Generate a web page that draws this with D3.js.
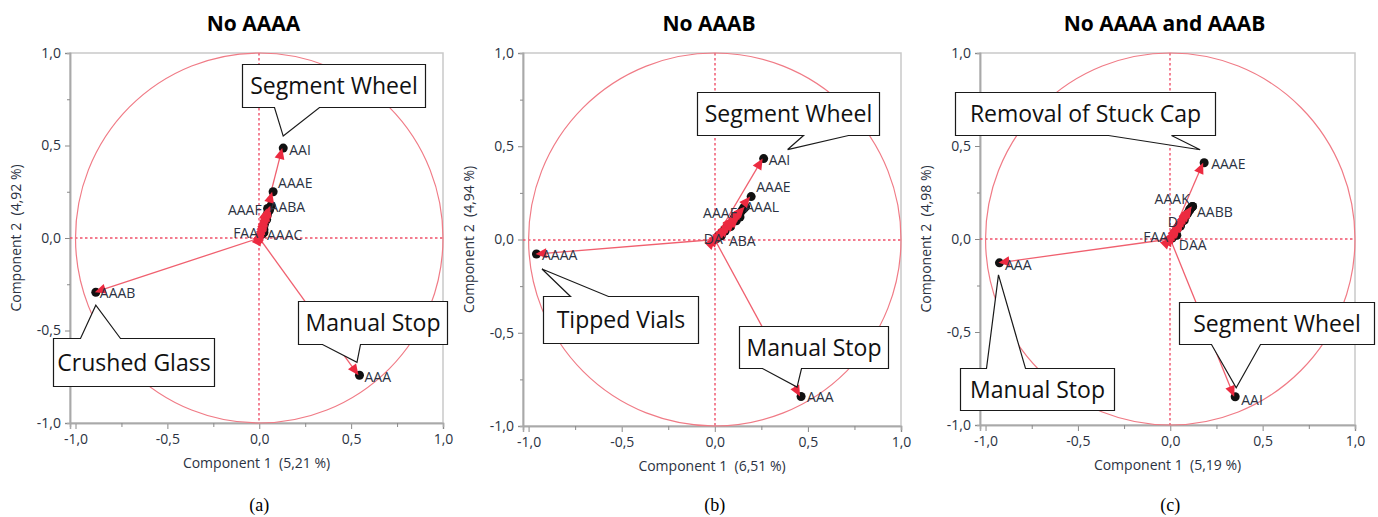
<!DOCTYPE html>
<html><head><meta charset="utf-8">
<script src="https://cdn.jsdelivr.net/npm/d3@7"></script>
<style>
body{margin:0;background:#fff;}
svg{display:block;font-family:"Open Sans",sans-serif;}
text{white-space:pre;}
</style></head><body>
<svg id="chart" width="1378" height="517"></svg>
<script>
// ---- Chart text ----
const panelTitles   = ["No AAAA", "No AAAB", "No AAAA and AAAB"];
const panelCaptions = ["(a)", "(b)", "(c)"];
const xAxisTitles   = ["Component 1  (5,21 %)", "Component 1  (6,51 %)", "Component 1  (5,19 %)"];
const yAxisTitles   = ["Component 2  (4,92 %)", "Component 2  (4,94 %)", "Component 2  (4,98 %)"];
const tickValues      = [-1, -0.5, 0, 0.5, 1];
const tickLabels      = ["-1,0", "-0,5", "0,0", "0,5", "1,0"];
const minorTickValues = [-0.75, -0.25, 0.25, 0.75];

// ---- Named loadings: [variable, component 1, component 2] ----
const loadingsA = [
  ["AAI", 0.125, 0.486], ["AAAE", 0.07, 0.25], ["AABA", 0.04, 0.16],
  ["AAAF", 0.035, 0.12], ["FAA", 0.01, 0.02], ["AAAC", 0.02, 0.03],
  ["AAAB", -0.895, -0.293], ["AAA", 0.54, -0.742]
];
const loadingsB = [
  ["AAI", 0.257, 0.434], ["AAAE", 0.19, 0.23], ["AAAL", 0.15, 0.17],
  ["AAAF", 0.10, 0.12], ["DA", 0.005, 0.005], ["ABA", 0.03, 0.02],
  ["AAAA", -0.963, -0.078], ["AAA", 0.458, -0.842]
];
const loadingsC = [
  ["AAAE", 0.178, 0.41], ["AABB", 0.115, 0.175], ["AAAK", 0.10, 0.16],
  ["D", 0.04, 0.07], ["FAA", 0.005, 0.005], ["DAA", 0.03, 0.02],
  ["AAA", -0.93, -0.128], ["AAI", 0.346, -0.848]
];

// ---- Small, overlapping loadings near the origin (labels hidden) ----
const clusterA = [
  [0.012, 0.035], [0.016, 0.05], [0.02, 0.065], [0.024, 0.08], [0.028, 0.095],
  [0.032, 0.11], [0.038, 0.125], [0.042, 0.14], [0.048, 0.155], [0.055, 0.168],
  [0.06, 0.175], [0.05, 0.15], [0.035, 0.10], [0.02, 0.045]
];
const clusterB = [
  [0.015, 0.02], [0.03, 0.035], [0.045, 0.05], [0.06, 0.065], [0.075, 0.08],
  [0.09, 0.095], [0.10, 0.11], [0.115, 0.125], [0.13, 0.14], [0.14, 0.155],
  [0.15, 0.165], [0.16, 0.175], [0.05, 0.045], [0.08, 0.07], [0.11, 0.10], [0.13, 0.12]
];
const clusterC = [
  [0.012, 0.02], [0.02, 0.035], [0.03, 0.05], [0.04, 0.065], [0.05, 0.08],
  [0.06, 0.095], [0.07, 0.11], [0.08, 0.125], [0.09, 0.14], [0.10, 0.155],
  [0.108, 0.168], [0.115, 0.175], [0.05, 0.07], [0.07, 0.10]
];

// ---- Annotations: [text, annotated variable] ----
const calloutsA = [["Segment Wheel", "AAI"], ["Manual Stop", "AAA"], ["Crushed Glass", "AAAB"]];
const calloutsB = [["Segment Wheel", "AAI"], ["Tipped Vials", "AAAA"], ["Manual Stop", "AAA"]];
const calloutsC = [["Removal of Stuck Cap", "AAAE"], ["Manual Stop", "AAA"], ["Segment Wheel", "AAI"]];

// ---- Layout ----
const X_DOMAIN = [-1.03, 1.0];
const Y_DOMAIN = [-1.0, 1.0];
const panels = [
  { frame: {L: 70,  R: 443,  T: 53, B: 423}, loadings: loadingsA, cluster: clusterA, callouts: calloutsA,
    labelPlace: { AAI:[7,2,"start"], AAAE:[6,-9,"start"], AABA:[3,-1,"start"], AAAF:[-4,-6,"end"],
                  FAA:[-3,-1,"end"], AAAC:[4,2.5,"start"], AAAB:[5,1,"start"], AAA:[6,2,"start"] },
    // box: top-left in data units, size in px; tail side, base offsets from box left, tip offset from point
    boxes: [ {x:-0.094, y:0.941, w:183, h:43, side:"bottom", b:[32,77], tip:[1,-12]},
             {x:0.211, y:-0.341, w:149, h:43, side:"bottom", b:[24,62], tip:[-1.5,-13]},
             {x:-1.123, y:-0.541, w:161, h:48, side:"top", b:[27,67], tip:[1,13]} ] },
  { frame: {L: 523, R: 901,  T: 53, B: 426}, loadings: loadingsB, cluster: clusterB, callouts: calloutsB,
    labelPlace: { AAI:[6,1.5,"start"], AAAE:[6,-9.5,"start"], AAAL:[2.5,-1,"start"], AAAF:[3.5,-4,"end"],
                  DA:[-12,0,"start"], ABA:[8.5,5,"start"], AAAA:[6.5,1,"start"], AAA:[7,0.5,"start"] },
    boxes: [ {x:-0.096, y:0.791, w:182, h:43, side:"bottom", b:[106,151], tip:[25,-9]},
             {x:-0.923, y:-0.303, w:155, h:47, side:"top", b:[27,65], tip:[6.5,15]},
             {x:0.129, y:-0.464, w:149, h:42, side:"bottom", b:[23,62], tip:[-3,-9.5]} ] },
  { frame: {L: 980, R: 1355, T: 53, B: 425}, loadings: loadingsC, cluster: clusterC, callouts: calloutsC,
    labelPlace: { AAAE:[8,1.5,"start"], AABB:[5.5,5.5,"start"], AAAK:[1,-10,"end"], D:[-10,-4,"start"],
                  FAA:[-3,-1,"end"], DAA:[3,10,"start"], AAA:[6.5,2,"start"], AAI:[7,3,"start"] },
    boxes: [ {x:-1.166, y:0.790, w:260, h:43, side:"bottom", b:[153,216], tip:[-3,-13]},
             {x:-1.139, y:-0.694, w:154, h:42, side:"top", b:[26,65], tip:[0,12]},
             {x:0.047, y:-0.339, w:195, h:42, side:"bottom", b:[32,81], tip:[2,-9]} ] }
];

const C = {
  text: "#2b3242", frame: "#c9c9c9", axis: "#a9a9a9", tick: "#8a8a8a",
  circle: "#f07b86", zero: "#f0506a", vector: "#f0606f", head: "#ec2a40", dot: "#111"
};

const svg = d3.select("#chart");

function calloutPath(bx, by, w, h, side, b1, b2, tx, ty) {
  if (side === "bottom") {
    return `M${bx},${by}H${bx + w}V${by + h}H${bx + b2}L${tx},${ty}L${bx + b1},${by + h}H${bx}Z`;
  }
  return `M${bx},${by}H${bx + b1}L${tx},${ty}L${bx + b2},${by}H${bx + w}V${by + h}H${bx}Z`;
}

panels.forEach((p, i) => {
  const f = p.frame;
  const x = d3.scaleLinear().domain(X_DOMAIN).range([f.L, f.R]);
  const y = d3.scaleLinear().domain(Y_DOMAIN).range([f.B, f.T]);
  const g = svg.append("g");
  const cx = (f.L + f.R) / 2;

  // title
  g.append("text").attr("x", cx - 3).attr("y", 31).attr("text-anchor", "middle")
    .attr("font-size", 21).attr("font-weight", 700).attr("fill", "#000").text(panelTitles[i]);

  // plot frame
  g.append("rect").attr("x", f.L).attr("y", f.T).attr("width", f.R - f.L).attr("height", f.B - f.T)
    .attr("fill", "none").attr("stroke", C.frame).attr("stroke-width", 1.5);

  // axes
  const xAxis = d3.axisBottom(x).tickValues(tickValues).tickSize(6).tickPadding(5)
    .tickFormat((d, k) => tickLabels[k]);
  const yAxis = d3.axisLeft(y).tickValues(tickValues).tickSize(5).tickPadding(4)
    .tickFormat((d, k) => tickLabels[k]);
  const gx = g.append("g").attr("transform", `translate(0,${f.B})`).call(xAxis);
  const gy = g.append("g").attr("transform", `translate(${f.L},0)`).call(yAxis);
  g.append("g").attr("transform", `translate(0,${f.B})`)
    .call(d3.axisBottom(x).tickValues(minorTickValues).tickSize(4).tickFormat(""));
  g.append("g").attr("transform", `translate(${f.L},0)`)
    .call(d3.axisLeft(y).tickValues(minorTickValues).tickSize(3).tickFormat(""));
  g.selectAll(".domain").attr("stroke", C.axis).attr("stroke-width", 1.5);
  g.selectAll(".tick line").attr("stroke", C.tick);
  [gx, gy].forEach(a => a.selectAll("text").attr("font-size", 14).attr("fill", C.text)
    .attr("font-family", "Open Sans, sans-serif"));

  // axis titles
  g.append("text").attr("x", cx).attr("y", f.B + 45).attr("text-anchor", "middle")
    .attr("font-size", 14).attr("fill", C.text).text(xAxisTitles[i]);
  g.append("text").attr("transform", `translate(${f.L - 49},${y(0)}) rotate(-90)`)
    .attr("text-anchor", "middle").attr("font-size", 14).attr("fill", C.text).text(yAxisTitles[i]);

  // caption
  g.append("text").attr("x", x(0)).attr("y", 511).attr("text-anchor", "middle")
    .attr("font-family", "Liberation Serif, serif").attr("font-size", 18).attr("fill", "#000")
    .text(panelCaptions[i]);

  // reference lines through origin (snapped to whole pixels)
  const zx = Math.round(x(0)), zy = Math.round(y(0));
  g.append("line").attr("x1", f.L).attr("x2", f.R).attr("y1", zy).attr("y2", zy)
    .attr("stroke", C.zero).attr("stroke-dasharray", "2.5,2.5").attr("stroke-width", 1.4);
  g.append("line").attr("x1", zx).attr("x2", zx).attr("y1", f.T).attr("y2", f.B)
    .attr("stroke", C.zero).attr("stroke-dasharray", "2.5,2.5").attr("stroke-width", 1.4);

  // unit circle
  g.append("ellipse").attr("cx", x(0)).attr("cy", y(0))
    .attr("rx", x(1) - x(0)).attr("ry", y(0) - y(1))
    .attr("fill", "none").attr("stroke", C.circle).attr("stroke-width", 1.2);

  // all vectors
  const vecs = p.cluster.map(d => ({ name: null, v1: d[0], v2: d[1] }))
    .concat(p.loadings.map(d => ({ name: d[0], v1: d[1], v2: d[2] })));

  g.append("g").selectAll("line").data(vecs).join("line")
    .attr("x1", x(0)).attr("y1", y(0)).attr("x2", d => x(d.v1)).attr("y2", d => y(d.v2))
    .attr("stroke", C.vector).attr("stroke-width", 1.3);

  g.append("g").selectAll("circle").data(vecs).join("circle")
    .attr("cx", d => x(d.v1) + 1).attr("cy", d => y(d.v2)).attr("r", 4.5).attr("fill", C.dot);

  // arrowheads, tip at the loading point
  const headLen = 11, headHalf = 5;
  g.append("g").selectAll("path").data(vecs).join("path")
    .attr("d", d => {
      const px = x(d.v1), py = y(d.v2);
      const dx = px - x(0), dy = py - y(0);
      const len = Math.hypot(dx, dy) || 1;
      const ux = dx / len, uy = dy / len;
      const bx = px - ux * headLen, by = py - uy * headLen;
      return `M${px},${py}L${bx - uy * headHalf},${by + ux * headHalf}L${bx + uy * headHalf},${by - ux * headHalf}Z`;
    })
    .attr("fill", C.head);

  // variable labels
  g.append("g").selectAll("text").data(vecs.filter(d => d.name)).join("text")
    .attr("x", d => x(d.v1) + p.labelPlace[d.name][0])
    .attr("y", d => y(d.v2) + p.labelPlace[d.name][1] + 5)
    .attr("text-anchor", d => p.labelPlace[d.name][2])
    .attr("font-size", 14).attr("fill", C.text).text(d => d.name);

  // callouts
  p.callouts.forEach((c, k) => {
    const b = p.boxes[k];
    const target = p.loadings.find(d => d[0] === c[1]);
    const tx = x(target[1]) + b.tip[0], ty = y(target[2]) + b.tip[1];
    const bx = Math.round(x(b.x)) + 0.5, by = Math.round(y(b.y)) + 0.5;
    g.append("path").attr("d", calloutPath(bx, by, b.w, b.h, b.side, b.b[0], b.b[1], tx, ty))
      .attr("fill", "#fff").attr("stroke", "#1a1a1a").attr("stroke-width", 1.2);
    g.append("text").attr("x", bx + b.w / 2).attr("y", by + b.h / 2 + 8)
      .attr("text-anchor", "middle").attr("font-size", 23).attr("fill", "#111").text(c[0]);
  });
});
</script>
</body></html>
